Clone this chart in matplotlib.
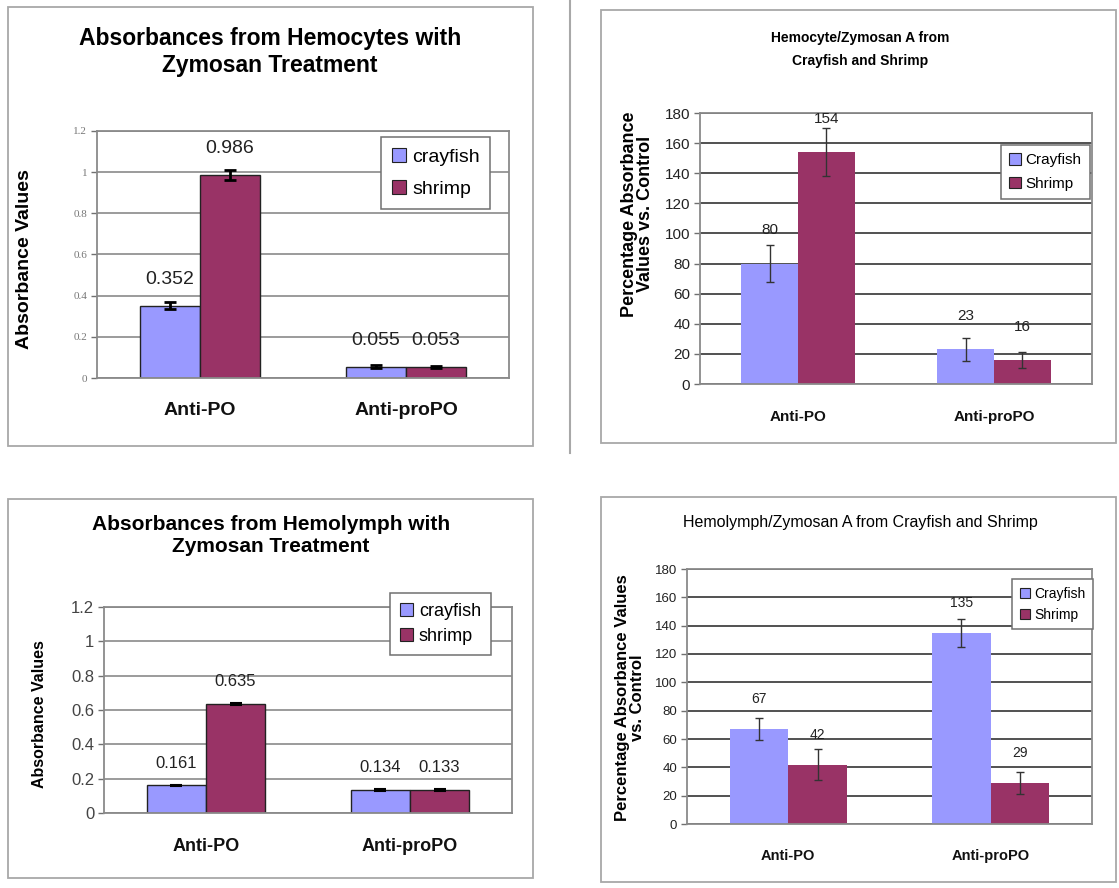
import numpy as np
import matplotlib
matplotlib.use('Agg')
import matplotlib.pyplot as plt
from matplotlib.patches import Rectangle
from matplotlib.lines import Line2D

# figure size in pixels
W, H = 1119, 888

categories = ['Anti-PO', 'Anti-proPO']

# top left: absorbances from hemocytes
hc_crayfish = [0.352, 0.055]
hc_crayfish_err = [0.017, 0.008]
hc_shrimp = [0.986, 0.053]
hc_shrimp_err = [0.024, 0.004]

# top right: hemocyte / zymosan A, % of control
hc_pct_crayfish = [80, 23]
hc_pct_crayfish_err = [12, 7.5]
hc_pct_shrimp = [154, 16]
hc_pct_shrimp_err = [16, 5.5]

# bottom left: absorbances from hemolymph
hl_crayfish = [0.161, 0.134]
hl_crayfish_err = [0.003, 0.006]
hl_shrimp = [0.635, 0.133]
hl_shrimp_err = [0.006, 0.004]

# bottom right: hemolymph / zymosan A, % of control
hl_pct_crayfish = [67, 135]
hl_pct_crayfish_err = [8, 10]
hl_pct_shrimp = [42, 29]
hl_pct_shrimp_err = [11, 8]

CRAY = '#9999ff'
SHR = '#993366'
ARIAL = ['Liberation Sans', 'DejaVu Sans']

fig = plt.figure(figsize=(W / 100, H / 100), dpi=100)


def fx(x):
    return x / W


def fy(y):
    return 1 - y / H


def frame(l, t, r, b):
    fig.add_artist(Rectangle((fx(l), fy(b)), (r - l) / W, (b - t) / H,
                             transform=fig.transFigure, fill=False,
                             ec='#a8a8a8', lw=1.3))


def panel(box, cray, cray_err, shr, shr_err, ymax, ystep, fmt,
          labels, legend_xy, grid_color, edge, err_style,
          tick_font, tick_size, tick_color, lab_size, lab_off,
          x_size, x_pad, leg_size, leg_spacing, bw=0.29):
    l, t, r, b = box
    ax = fig.add_axes([fx(l), fy(b), (r - l) / W, (b - t) / H])
    x = np.arange(len(categories))
    lw = 1 if edge != 'none' else 0
    ax.bar(x - bw / 2, cray, bw, color=CRAY, edgecolor=edge, lw=lw, zorder=2)
    ax.bar(x + bw / 2, shr, bw, color=SHR, edgecolor=edge, lw=lw, zorder=2)
    ax.errorbar(x - bw / 2, cray, yerr=cray_err, fmt='none', zorder=3, **err_style)
    ax.errorbar(x + bw / 2, shr, yerr=shr_err, fmt='none', zorder=3, **err_style)
    for xs, vals in ((x - bw / 2, cray), (x + bw / 2, shr)):
        for xi, v in zip(xs, vals):
            ax.annotate(fmt.format(v), (xi, v), xytext=(0, lab_off),
                        textcoords='offset points', ha='center', va='center',
                        family=ARIAL, fontsize=lab_size, color='#222222')
    ax.set_xlim(-0.5, len(categories) - 0.5)
    ax.set_ylim(0, ymax)
    ticks = np.arange(0, ymax + ystep / 2, ystep)
    ax.set_yticks(ticks)
    ax.set_yticklabels(['{:g}'.format(round(v, 2)) for v in ticks],
                       family=tick_font, fontsize=tick_size, color=tick_color)
    ax.set_xticks(x)
    ax.set_xticklabels(categories, family=ARIAL, fontsize=x_size,
                       fontweight='bold', color='#111111')
    ax.tick_params(axis='x', length=0, pad=x_pad)
    ax.tick_params(axis='y', length=4, width=1, color='#707070', pad=3)
    ax.yaxis.grid(True, color=grid_color, lw=1.2)
    ax.set_axisbelow(True)
    for s in ax.spines.values():
        s.set_color('#8a8a8a')
        s.set_linewidth(1.3)
    handles = [Rectangle((0, 0), 1, 1, fc=CRAY, ec='#222222', lw=0.8),
               Rectangle((0, 0), 1, 1, fc=SHR, ec='#222222', lw=0.8)]
    leg = ax.legend(handles, labels, loc='upper left',
                    bbox_to_anchor=(fx(legend_xy[0]), fy(legend_xy[1])),
                    bbox_transform=fig.transFigure, borderaxespad=0,
                    fancybox=False, framealpha=1, edgecolor='#707070',
                    handlelength=0.75, handleheight=0.75, handletextpad=0.3,
                    labelspacing=leg_spacing, borderpad=0.55,
                    prop={'family': ARIAL, 'size': leg_size})
    leg.get_frame().set_linewidth(1.1)
    return ax


# ---------- frames and separator ----------
frame(8, 7, 533, 446)
frame(601, 10, 1116, 443)
frame(8, 499, 533, 878)
frame(601, 497, 1116, 882)
fig.add_artist(Line2D([fx(570), fx(570)], [1, fy(453)], transform=fig.transFigure,
                      color='#a8a8a8', lw=1.5))

# ---------- top left ----------
panel((97, 131, 509, 378), hc_crayfish, hc_crayfish_err, hc_shrimp, hc_shrimp_err,
      1.2, 0.2, '{:.3f}', ['crayfish', 'shrimp'], (381, 137), '#8a8a8a', '#222222',
      dict(ecolor='black', elinewidth=2, capsize=4, capthick=2),
      ['Liberation Serif', 'DejaVu Serif'], 8, '#777777', 14, 19,
      14, 17, 14, 0.75)
fig.text(fx(270), fy(52), 'Absorbances from Hemocytes with\nZymosan Treatment',
         ha='center', va='center', family=ARIAL, fontsize=16.5, fontweight='bold',
         linespacing=1.25)
fig.text(fx(25), fy(259), 'Absorbance Values', rotation=90, ha='center', va='center',
         family=ARIAL, fontsize=14, fontweight='bold')

# ---------- top right ----------
panel((700, 113, 1092, 384), hc_pct_crayfish, hc_pct_crayfish_err, hc_pct_shrimp,
      hc_pct_shrimp_err, 180, 20, '{:.0f}', ['Crayfish', 'Shrimp'], (1001, 145),
      '#333333', 'none', dict(ecolor='#333333', elinewidth=1, capsize=3, capthick=1),
      ARIAL, 11, '#222222', 11, 24, 11, 19, 11, 0.6)
fig.text(fx(860), fy(49.5), 'Hemocyte/Zymosan A from\nCrayfish and Shrimp',
         ha='center', va='center', family=ARIAL, fontsize=10, fontweight='bold',
         linespacing=1.75)
fig.text(fx(637.5), fy(214), 'Percentage Absorbance\nValues vs. Control', rotation=90,
         ha='center', va='center', family=ARIAL, fontsize=13, fontweight='bold',
         linespacing=1.0)

# ---------- bottom left ----------
panel((104, 607, 512, 813), hl_crayfish, hl_crayfish_err, hl_shrimp, hl_shrimp_err,
      1.2, 0.2, '{:.3f}', ['crayfish', 'shrimp'], (390, 593), '#8a8a8a', '#222222',
      dict(ecolor='black', elinewidth=1.5, capsize=4, capthick=1.5),
      ARIAL, 12, '#444444', 12, 16, 13, 18, 13, 0.45)
fig.text(fx(271), fy(535.5), 'Absorbances from Hemolymph with\nZymosan Treatment',
         ha='center', va='center', family=ARIAL, fontsize=15, fontweight='bold',
         linespacing=1.2)
fig.text(fx(40), fy(714), 'Absorbance Values', rotation=90, ha='center', va='center',
         family=ARIAL, fontsize=11.5, fontweight='bold')

# ---------- bottom right ----------
panel((687, 569, 1092, 824), hl_pct_crayfish, hl_pct_crayfish_err, hl_pct_shrimp,
      hl_pct_shrimp_err, 180, 20, '{:.0f}', ['Crayfish', 'Shrimp'], (1012, 579),
      '#333333', 'none', dict(ecolor='#333333', elinewidth=1, capsize=3, capthick=1),
      ARIAL, 9.5, '#222222', 10, 21.5, 10.5, 18, 10, 0.5)
fig.text(fx(860), fy(522), 'Hemolymph/Zymosan A from Crayfish and Shrimp',
         ha='center', va='center', family=ARIAL, fontsize=11.5)
fig.text(fx(630.5), fy(697.5), 'Percentage Absorbance Values\nvs. Control', rotation=90,
         ha='center', va='center', family=ARIAL, fontsize=12, fontweight='bold',
         linespacing=1.0)

fig.savefig('out.png', dpi=100, facecolor='white')
